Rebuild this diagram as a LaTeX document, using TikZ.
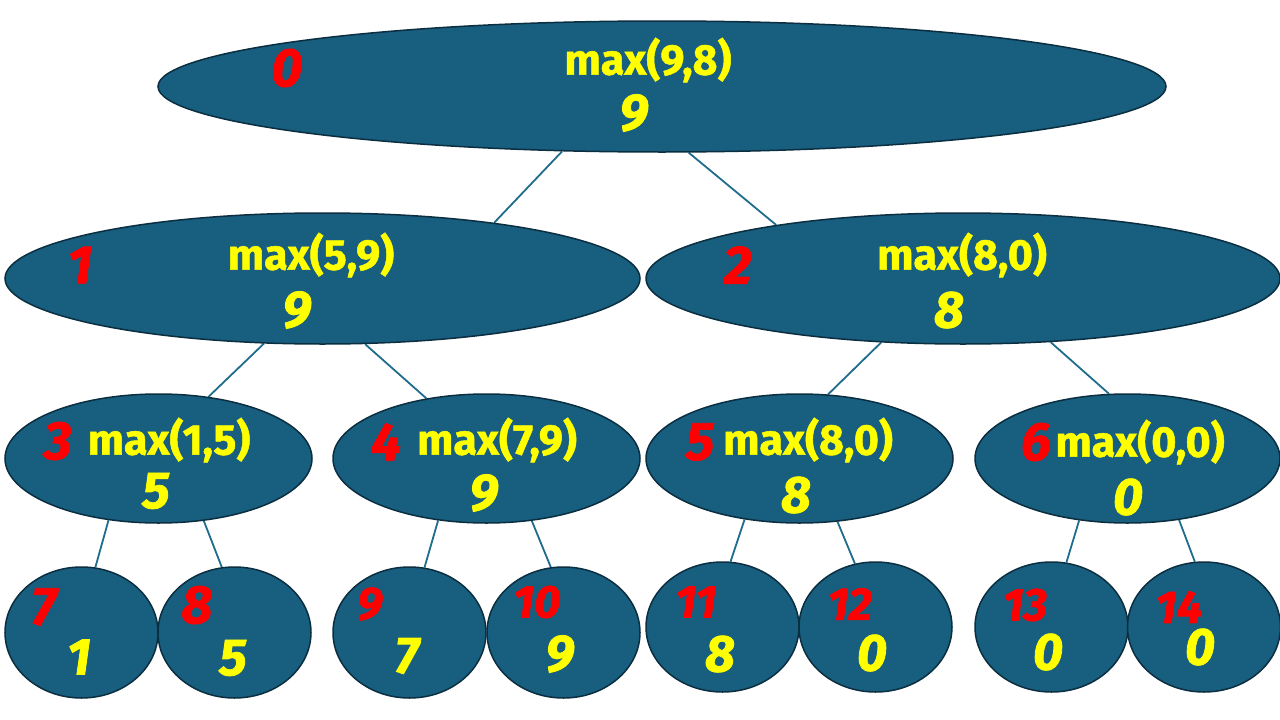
\documentclass[tikz,border=0pt]{standalone}
\usepackage{fontspec}
\setmainfont{Fira Sans}[BoldFeatures={FakeBold=1.2},BoldItalicFeatures={FakeBold=1.5}]
\usetikzlibrary{shapes.geometric,backgrounds}
\definecolor{nodefill}{HTML}{175E7F}
\definecolor{nodeline}{HTML}{0B2E40}
\definecolor{linkcol}{HTML}{1F6C8C}
\definecolor{labred}{HTML}{FF0000}
\definecolor{valyel}{HTML}{FFFF00}
\begin{document}
\begin{tikzpicture}[x=1pt,y=1pt,
  bub/.style={ellipse,draw=nodeline,line width=1.5pt,fill=nodefill,inner sep=0pt},
  link/.style={draw=linkcol,line width=1.8pt},
  idx/.style={text=labred,inner sep=0pt,font=\fontsize{54}{58}\selectfont\bfseries\itshape},
  idxs/.style={text=labred,inner sep=0pt,font=\fontsize{46}{50}\selectfont\bfseries\itshape},
  fn/.style={text=valyel,inner sep=0pt,font=\fontsize{43}{47}\selectfont\bfseries},
  val/.style={text=valyel,inner sep=0pt,font=\fontsize{52}{56}\selectfont\bfseries\itshape}]
\useasboundingbox (0,0) rectangle (1280,-720);
% ellipses
\node[bub,minimum width=1008pt,minimum height=131pt] (n0) at (662,-86.5) {};
\node[bub,minimum width=635pt,minimum height=131pt] (n1) at (322.5,-278.5) {};
\node[bub,minimum width=634pt,minimum height=131pt] (n2) at (963,-278.5) {};
\node[bub,minimum width=307pt,minimum height=129pt] (n3) at (158.5,-458.5) {};
\node[bub,minimum width=307pt,minimum height=129pt] (n4) at (486.5,-458.5) {};
\node[bub,minimum width=307pt,minimum height=129pt] (n5) at (799.5,-458.5) {};
\node[bub,minimum width=305pt,minimum height=129pt] (n6) at (1127.5,-458.5) {};
\node[bub,minimum width=153pt,minimum height=131pt] (n7) at (81.5,-632.5) {};
\node[bub,minimum width=153pt,minimum height=131pt] (n8) at (234.5,-632.5) {};
\node[bub,minimum width=153pt,minimum height=131pt] (n9) at (409.5,-632.5) {};
\node[bub,minimum width=153pt,minimum height=131pt] (n10) at (563.5,-632.5) {};
\node[bub,minimum width=153pt,minimum height=130pt] (n11) at (722.5,-627) {};
\node[bub,minimum width=153pt,minimum height=130pt] (n12) at (875.5,-627) {};
\node[bub,minimum width=153pt,minimum height=130pt] (n13) at (1051.5,-627) {};
\node[bub,minimum width=153pt,minimum height=130pt] (n14) at (1204,-627) {};
% connectors
\begin{scope}[on background layer]
\draw[link] (n0.213.9) -- (n1.18.6);
\draw[link] (n0.292.7) -- (n2.164.9);
\draw[link] (n1.228.7) -- (n3.51.3);
\draw[link] (n1.303.0) -- (n4.135.5);
\draw[link] (n2.218.4) -- (n5.66.25);
\draw[link] (n2.324.5) -- (n6.106.8);
\draw[link] (n3.231.1) -- (n7.78.9);
\draw[link] (n3.306.6) -- (n8.101.1);
\draw[link] (n4.232.2) -- (n9.77.5);
\draw[link] (n4.306.6) -- (n10.101.7);
\draw[link] (n5.228.4) -- (n11.83.3);
\draw[link] (n5.301.6) -- (n12.108.8);
\draw[link] (n6.232.8) -- (n13.77.2);
\draw[link] (n6.310) -- (n14.98);
\end{scope}
% texts
\node[idx] (t0) at (287,-68) {0};
\node[fn] (f0) at (648,-60) {max(9,8)};
\node[val] (v0) at (634,-113) {9};
\node[idx] (t1) at (80,-265) {1};
\node[fn] (f1) at (311,-255) {max(5,9)};
\node[val] (v1) at (297,-310) {9};
\node[idx] (t2) at (738,-265) {2};
\node[fn] (f2) at (962,-255) {max(8,0)};
\node[val] (v2) at (949,-310) {8};
\node[idx] (t3) at (58,-441) {3};
\node[fn] (f3) at (169,-440) {max(1,5)};
\node[val] (v3) at (156,-491) {5};
\node[idx] (t4) at (386,-442) {4};
\node[fn] (f4) at (497,-440) {max(7,9)};
\node[val] (v4) at (484,-493) {9};
\node[idx] (t5) at (700,-442) {5};
\node[fn] (f5) at (808,-440) {max(8,0)};
\node[val] (v5) at (796,-495) {8};
\node[idx] (t6) at (1036,-442) {6};
\node[fn] (f6) at (1140,-442) {max(0,0)};
\node[val] (v6) at (1128,-497) {0};
\node[idx] (t7) at (44,-607) {7};
\node[val] (v7) at (79,-657) {1};
\node[idx] (t8) at (197,-605) {8};
\node[val] (v8) at (233,-658) {5};
\node[idxs] (t9) at (370,-604) {9};
\node[val] (v9) at (407,-656) {7};
\node[idxs] (t10) at (537,-602) {10};
\node[val] (v10) at (560,-654) {9};
\node[idxs] (t11) at (696,-602) {11};
\node[val] (v11) at (720,-654) {8};
\node[idxs] (t12) at (850,-604) {12};
\node[val] (v12) at (872,-653) {0};
\node[idxs] (t13) at (1025,-605) {13};
\node[val] (v13) at (1048,-652) {0};
\node[idxs] (t14) at (1179,-607) {14};
\node[val] (v14) at (1200,-647) {0};
\end{tikzpicture}
\end{document}
